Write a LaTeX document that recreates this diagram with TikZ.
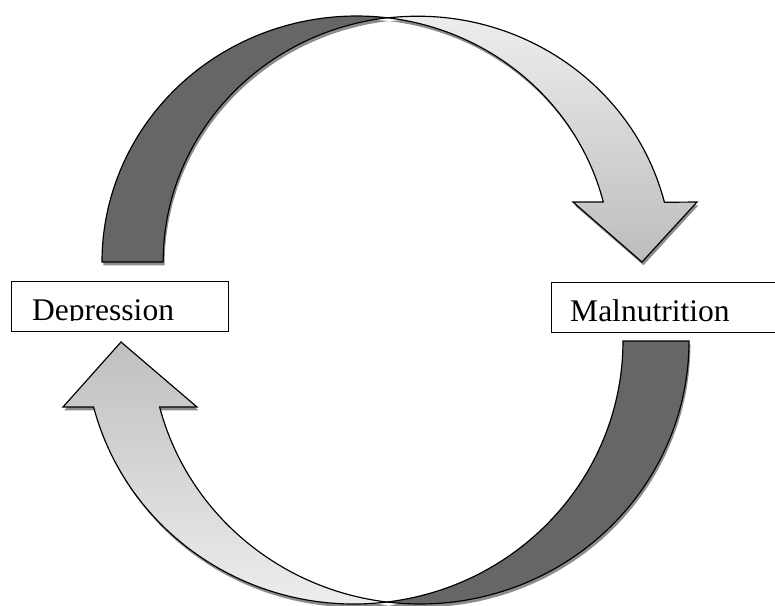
\documentclass[tikz,border=0pt]{standalone}
\usepackage{fontspec}
\setmainfont{Liberation Serif}
\usetikzlibrary{shadows}
\definecolor{bandgray}{HTML}{666666}
\begin{document}
\begin{tikzpicture}[x=0.03cm,y=-0.03cm,
  band/.style={draw=black,line width=1pt,line join=miter,
    drop shadow={shadow xshift=1.2pt,shadow yshift=-2.8pt,fill=black!45,opacity=1}},
  back/.style={band,fill=bandgray},
  front/.style 2 args={band,top color=#1,bottom color=#2},
  toparc/.style={x radius=254.5,y radius=246},
  botarc/.style={x radius=269,y radius=263},
  box/.style={draw=black,fill=white,line width=0.8pt,anchor=north west,inner sep=0pt},
  word/.style={font=\fontsize{26.9}{30}\selectfont,anchor=base west,inner sep=0pt}]
  \useasboundingbox (0,0) rectangle (775,605);
  \path[back] (102,262) arc[toparc,start angle=180,end angle=276.9]
    arc[toparc,start angle=263.1,end angle=180] -- cycle;
  \path[front={gray!12}{gray!52}] (387,18) arc[toparc,start angle=263.1,end angle=345.9]
    -- (697,202) -- (642,262) -- (573,202) -- (603.3,202)
    arc[toparc,start angle=345.9,end angle=276.9] -- cycle;
  \path[back] (689,341) arc[botarc,start angle=0,end angle=97.05]
    arc[botarc,start angle=82.95,end angle=0] -- cycle;
  \path[front={gray!50}{gray!12}] (387,602) arc[botarc,start angle=82.95,end angle=165.47]
    -- (63,407) -- (121,342) -- (197,407) -- (159.6,407)
    arc[botarc,start angle=165.47,end angle=97.05] -- cycle;
  \node[box,minimum width=6.51cm,minimum height=1.5cm] (dep) at (11,281) {};
  \node[box,minimum width=7.2cm,minimum height=1.5cm] (mal) at (551,282) {};
  \begin{scope}
    \clip (11,281) rectangle (228,320.5);
    \node[word] (deplabel) at (32,320) {Depression};
  \end{scope}
  \node[word] (mallabel) at (570,321) {Malnutrition};
\end{tikzpicture}
\end{document}
